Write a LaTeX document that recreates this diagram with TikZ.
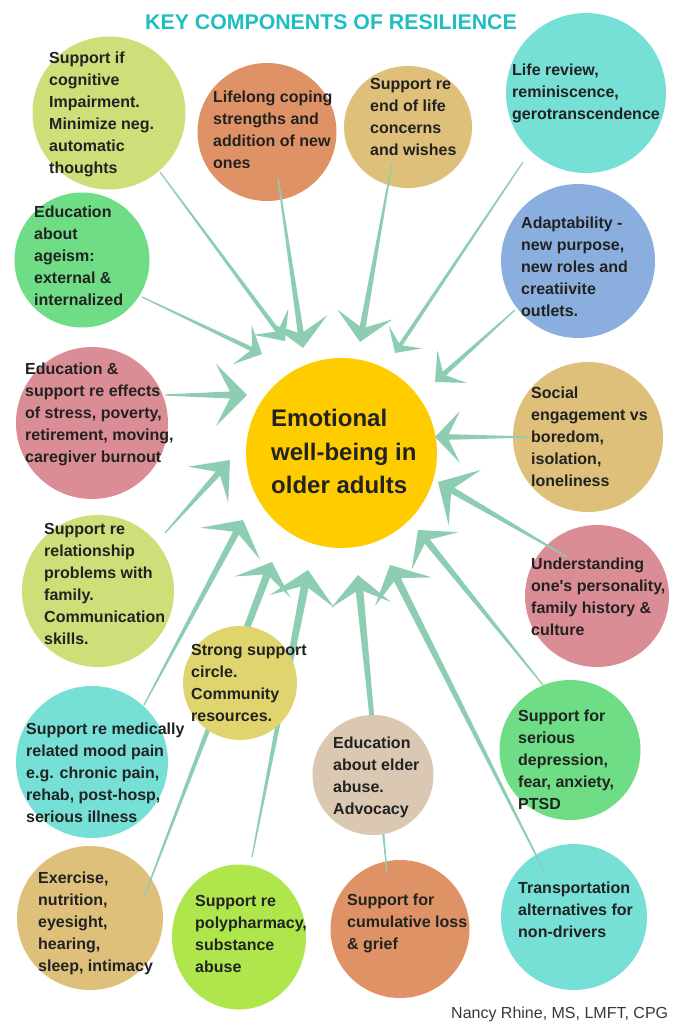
\documentclass[tikz,border=0pt]{standalone}
\usepackage{fontspec}
\setmainfont{Liberation Sans}
\usetikzlibrary{calc,shapes.geometric}
\definecolor{cYG}{RGB}{206,223,122}
\definecolor{cOr}{RGB}{223,146,102}
\definecolor{cTan}{RGB}{222,192,122}
\definecolor{cTeal}{RGB}{118,223,214}
\definecolor{cGr}{RGB}{110,221,133}
\definecolor{cBlue}{RGB}{138,174,221}
\definecolor{cPink}{RGB}{219,141,149}
\definecolor{cYel}{RGB}{224,212,110}
\definecolor{cBeige}{RGB}{219,200,178}
\definecolor{cLime}{RGB}{174,230,76}
\definecolor{cCenter}{RGB}{255,204,0}
\definecolor{arrowc}{RGB}{141,206,179}
\definecolor{txt}{RGB}{34,34,34}
\definecolor{titlec}{RGB}{30,190,194}
\tikzset{
  bubble/.style={ellipse, inner sep=0pt, draw=none},
  btext/.style={anchor=base west, align=left, inner sep=0pt, text=txt,
    font=\bfseries\fontsize{16}{22}\selectfont},
}
\newcommand\tarrow[5]{%
  \pgfmathsetmacro\tnd{0.55*#3}%
  \coordinate (tmpN) at ($(#2)!\tnd pt!(#1)$);
  \coordinate (tmpK) at ($(#2)!#3pt!(#1)$);
  \fill[arrowc] ($(#1)!0.6pt!90:(#2)$) -- ($(tmpN)!#5pt!90:(#2)$) --
    ($(tmpK)!#4pt!90:(#2)$) -- (#2) -- ($(tmpK)!#4pt!-90:(#2)$) --
    ($(tmpN)!#5pt!-90:(#2)$) -- ($(#1)!0.6pt!-90:(#2)$) -- cycle;
}
\begin{document}
\begin{tikzpicture}[x=1pt,y=-1pt]
\useasboundingbox[fill=white] (0,0) rectangle (683,1024);
% bubbles
\node[bubble, fill=cYG,   minimum width=153pt, minimum height=153pt] (b1) at (109,113) {};
\node[bubble, fill=cOr,   minimum width=139pt, minimum height=138pt] (b2) at (267,132) {};
\node[bubble, fill=cTan,  minimum width=128pt, minimum height=122pt] (b3) at (408,127) {};
\node[bubble, fill=cTeal, minimum width=160pt, minimum height=160pt] (b4) at (586,93) {};
\node[bubble, fill=cGr,   minimum width=135pt, minimum height=135pt] (b5) at (82,260) {};
\node[bubble, fill=cBlue, minimum width=154pt, minimum height=154pt] (b6) at (578,261) {};
\node[bubble, fill=cPink, minimum width=152pt, minimum height=152pt] (b7) at (92,423) {};
\node[bubble, fill=cCenter, minimum width=191pt, minimum height=190pt] (bc) at (341.5,453) {};
\node[bubble, fill=cTan,  minimum width=150pt, minimum height=150pt] (b8) at (588,437) {};
\node[bubble, fill=cYG,   minimum width=152pt, minimum height=152pt] (b9) at (98,591) {};
\node[bubble, fill=cPink, minimum width=144pt, minimum height=142pt] (b10) at (597,596) {};
\node[bubble, fill=cTeal, minimum width=152pt, minimum height=152pt] (b12) at (92,762) {};
\node[bubble, fill=cGr,   minimum width=141pt, minimum height=140pt] (b14) at (570,750) {};
\node[bubble, fill=cTan,  minimum width=146pt, minimum height=144pt] (b15) at (90,918) {};
\node[bubble, fill=cLime, minimum width=134pt, minimum height=145pt] (b16) at (239,937) {};
\node[bubble, fill=cOr,   minimum width=139pt, minimum height=138pt] (b17) at (400,929) {};
\node[bubble, fill=cTeal, minimum width=146pt, minimum height=146pt] (b18) at (574,917) {};
% arrow end points
\coordinate (sa) at (160,172); \coordinate (ta) at (285,341);
\coordinate (sb) at (278,178); \coordinate (tb) at (303,348);
\coordinate (sc) at (142,297); \coordinate (tc) at (262,354);
\coordinate (sd) at (392,163); \coordinate (td) at (360,342);
\coordinate (se) at (523,162); \coordinate (te) at (395,353);
\coordinate (sf) at (515,310); \coordinate (tf) at (435,382);
\coordinate (sg) at (528,437); \coordinate (tg) at (435,437);
\coordinate (sh) at (567,557); \coordinate (th) at (438,482);
\coordinate (si) at (165,395); \coordinate (ti) at (247,395);
\coordinate (sj) at (165,533); \coordinate (tj) at (230,460);
\coordinate (sk) at (144,705); \coordinate (tk) at (243,520);
\coordinate (sl) at (144,897); \coordinate (tl) at (272,562);
\coordinate (sm) at (252,857); \coordinate (tm) at (308,570);
\coordinate (sn) at (543,685); \coordinate (tn) at (418,530);
\coordinate (so) at (545,873); \coordinate (to) at (390,565);
\coordinate (sp) at (387,872); \coordinate (tp) at (358,575);
% arrows
\tarrow{sa}{ta}{24}{22}{2.2}
\tarrow{sb}{tb}{29}{29}{3}
\tarrow{sc}{tc}{22}{22}{2.2}
\tarrow{sd}{td}{28}{28}{3}
\tarrow{se}{te}{19}{20}{2}
\tarrow{sf}{tf}{23}{22}{2.5}
\tarrow{sg}{tg}{25}{26}{2.8}
\tarrow{sh}{th}{31}{32}{3.3}
\tarrow{si}{ti}{31}{31}{3.5}
\tarrow{sj}{tj}{33}{27}{3}
\tarrow{sk}{tk}{27}{34}{3.3}
\tarrow{sl}{tl}{27}{30}{3.8}
\tarrow{sm}{tm}{32}{33}{4}
\tarrow{sn}{tn}{27}{30}{3.3}
\tarrow{so}{to}{30}{32}{3.8}
\tarrow{sp}{tp}{30}{30}{3.8}
% bubbles drawn over arrows
\node[bubble, fill=cYel,   minimum width=114pt, minimum height=114pt] (b11) at (240,683) {};
\node[bubble, fill=cBeige, minimum width=121pt, minimum height=120pt] (b13) at (373,775) {};
% texts (anchor = baseline of the last line)
\node[anchor=base west, inner sep=0pt, text=titlec, font=\bfseries\fontsize{21.3}{24}\selectfont] (title) at (145,29.5) {KEY COMPONENTS OF RESILIENCE};
\node[btext] (t1) at (49,173.5) {Support if\\cognitive\\Impairment.\\Minimize neg.\\automatic\\thoughts};
\node[btext] (t2) at (213,168.5) {Lifelong coping\\strengths and\\addition of new\\ones};
\node[btext] (t3) at (370,155.5) {Support re\\end of life\\concerns\\and wishes};
\node[btext] (t4) at (512,119.5) {Life review,\\reminiscence,\\gerotranscendence};
\node[btext] (t5) at (34,305.5) {Education\\about\\ageism:\\external \&\\internalized};
\node[btext] (t6) at (521,316.5) {Adaptability -\\new purpose,\\new roles and\\creatiivite\\outlets.};
\node[btext] (t7) at (25,462.5) {Education \&\\support re effects\\of stress, poverty,\\retirement, moving,\\caregiver burnout};
\node[anchor=base west, align=left, inner sep=0pt, text=txt, font=\bfseries\fontsize{24}{33.5}\selectfont] (tcen) at (271,493.5) {Emotional\\well-being in\\older adults};
\node[btext] (t8) at (531,486.5) {Social\\engagement vs\\boredom,\\isolation,\\loneliness};
\node[btext] (t9) at (44,644.5) {Support re\\relationship\\problems with\\family.\\Communication\\skills.};
\node[btext] (t10) at (531,635.5) {Understanding\\one\textquotesingle s personality,\\family history \&\\culture};
\node[btext] (t11) at (191,721.5) {Strong support\\circle.\\Community\\resources.};
\node[btext] (t12) at (26,822.5) {Support re medically\\related mood pain\\e.g. chronic pain,\\rehab, post-hosp,\\serious illness};
\node[btext] (t13) at (333,814.5) {Education\\about elder\\abuse.\\Advocacy};
\node[btext] (t14) at (518,809.5) {Support for\\serious\\depression,\\fear, anxiety,\\PTSD};
\node[btext] (t15) at (38,971.5) {Exercise,\\nutrition,\\eyesight,\\hearing,\\sleep, intimacy};
\node[btext] (t16) at (195,972.5) {Support re\\polypharmacy,\\substance\\abuse};
\node[btext] (t17) at (347,949.5) {Support for\\cumulative loss\\\& grief};
\node[btext] (t18) at (518,937.5) {Transportation\\alternatives for\\non-drivers};
\node[anchor=base west, inner sep=0pt, text=txt!90, font=\fontsize{16}{18}\selectfont] (foot) at (451,1018.5) {Nancy Rhine, MS, LMFT, CPG};
\end{tikzpicture}
\end{document}
